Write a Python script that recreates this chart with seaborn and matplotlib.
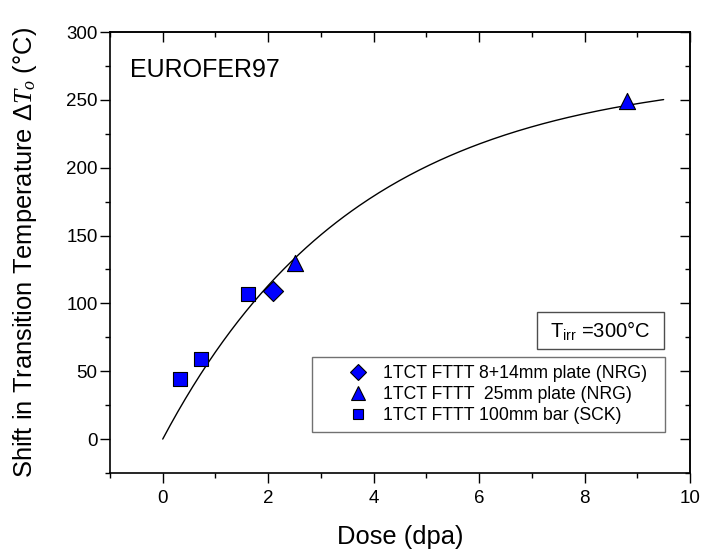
import numpy as np
import pandas as pd
import matplotlib
matplotlib.use("Agg")
import matplotlib.pyplot as plt
from matplotlib.lines import Line2D
from matplotlib.patches import Rectangle
from matplotlib.ticker import MultipleLocator
import seaborn as sns

# Measured transition temperature shifts (dose in dpa, shift in degC)
series_names = [
    "1TCT FTTT 8+14mm plate (NRG)",
    "1TCT FTTT  25mm plate (NRG)",
    "1TCT FTTT 100mm bar (SCK)",
]
plate_8_14_dose = [2.1]
plate_8_14_shift = [109]
plate_25_dose = [2.5, 8.8]
plate_25_shift = [130, 249]
bar_100_dose = [0.33, 0.72, 1.62]
bar_100_shift = [44, 59, 107]

# Saturating trend line: shift = A * (1 - exp(-dose / d0))
fit_amplitude = 271.0
fit_dose_scale = 3.7
fit_dose_max = 9.5

sns.set_theme(style="ticks")
plt.rcParams["font.family"] = ["Liberation Sans", "DejaVu Sans"]
plt.rcParams["mathtext.fontset"] = "custom"
plt.rcParams["mathtext.rm"] = "Liberation Sans"
plt.rcParams["mathtext.sf"] = "Liberation Sans"
plt.rcParams["mathtext.it"] = "Liberation Serif:italic"
plt.rcParams["mathtext.bf"] = "Liberation Sans:bold"
for key in ("text.color", "axes.labelcolor", "xtick.color", "ytick.color",
            "xtick.labelcolor", "ytick.labelcolor"):
    plt.rcParams[key] = "black"

points = pd.DataFrame({
    "dose": plate_8_14_dose + plate_25_dose + bar_100_dose,
    "shift": plate_8_14_shift + plate_25_shift + bar_100_shift,
    "series": [series_names[0]] * len(plate_8_14_dose)
    + [series_names[1]] * len(plate_25_dose)
    + [series_names[2]] * len(bar_100_dose),
})
dose_grid = np.linspace(0, fit_dose_max, 200)
trend = pd.DataFrame({
    "dose": dose_grid,
    "shift": fit_amplitude * (1 - np.exp(-dose_grid / fit_dose_scale)),
})

fig = plt.figure(figsize=(7.02, 5.56), dpi=100)
ax = fig.add_axes([0.1567, 0.1493, 0.8262, 0.7931])

sns.lineplot(data=trend, x="dose", y="shift", color="black", lw=1.0, ax=ax)

marker_map = {series_names[0]: "D", series_names[1]: "^", series_names[2]: "s"}
size_map = {series_names[0]: 105, series_names[1]: 135, series_names[2]: 88}
for name in series_names:
    sub = points[points["series"] == name]
    sns.scatterplot(data=sub, x="dose", y="shift", marker=marker_map[name],
                    s=size_map[name], color="#0000FF", edgecolor="black",
                    linewidth=0.8, zorder=5, legend=False, ax=ax)

ax.set_xlim(-1, 10)
ax.set_ylim(-25, 300)
ax.xaxis.set_major_locator(MultipleLocator(2))
ax.xaxis.set_minor_locator(MultipleLocator(1))
ax.yaxis.set_major_locator(MultipleLocator(50))
ax.yaxis.set_minor_locator(MultipleLocator(25))

for sp in ax.spines.values():
    sp.set_visible(True)
    sp.set_linewidth(1.2)
    sp.set_color("black")

ax.tick_params(which="both", direction="out", top=False, right=False,
               width=1.0, color="black", labelcolor="black", labelsize=13.5)
ax.tick_params(which="major", length=7)
ax.tick_params(which="minor", length=3.6)
ax.tick_params(axis="x", which="major", pad=5.5)
ax.tick_params(axis="y", which="major", pad=2)

top = ax.secondary_xaxis("top")
top.xaxis.set_major_locator(MultipleLocator(2))
top.xaxis.set_minor_locator(MultipleLocator(1))
top.tick_params(which="both", direction="in", labeltop=False, width=1.0,
                color="black")
top.tick_params(which="major", length=7)
top.tick_params(which="minor", length=3.6)
top.spines["top"].set_linewidth(1.2)

right = ax.secondary_yaxis("right")
right.yaxis.set_major_locator(MultipleLocator(50))
right.yaxis.set_minor_locator(MultipleLocator(25))
right.tick_params(which="both", direction="in", labelright=False, width=1.0,
                  color="black")
right.tick_params(which="major", length=7)
right.tick_params(which="minor", length=3.6)
right.spines["right"].set_linewidth(1.2)

ax.set_xlabel("Dose (dpa)", fontsize=18.4, color="black")
ax.set_ylabel(r"Shift in Transition Temperature $\mathit{\Delta T_o}$ (°C)",
              fontsize=18.4, color="black")
ax.xaxis.set_label_coords(0.5, -0.118)
ax.yaxis.set_label_coords(-0.122, 0.5)

ax.text(0.0345, 0.914, "EUROFER97", transform=ax.transAxes,
        fontsize=18, va="center", ha="left", color="black")

# Irradiation temperature note in its own frame
ax.add_patch(Rectangle((0.736, 0.281), 0.219, 0.0839, transform=ax.transAxes,
                       fc="white", ec="0.3", lw=1.0, zorder=6))
ax.text(0.8455, 0.323, r"T$_{\mathrm{irr}}$ =300°C", transform=ax.transAxes,
        fontsize=14.5, va="center", ha="center", color="black", zorder=7)

handles = [
    Line2D([], [], ls="none", marker="D", ms=8.5, mfc="#0000FF", mec="black", mew=0.8),
    Line2D([], [], ls="none", marker="^", ms=9.5, mfc="#0000FF", mec="black", mew=0.8),
    Line2D([], [], ls="none", marker="s", ms=6.8, mfc="#0000FF", mec="black", mew=0.8),
]
leg = ax.legend(handles, series_names, loc="upper left", mode="expand",
                bbox_to_anchor=(0.3483, 0.0, 0.6086, 0.2630), fontsize=12.7,
                frameon=True, fancybox=False, borderpad=0.45,
                labelspacing=0.23, handletextpad=-0.7, handlelength=4.3,
                borderaxespad=0)
leg.get_frame().set_edgecolor("0.3")
leg.get_frame().set_linewidth(1.0)
for t in leg.get_texts():
    t.set_color("black")

fig.savefig("out.png", dpi=100)
